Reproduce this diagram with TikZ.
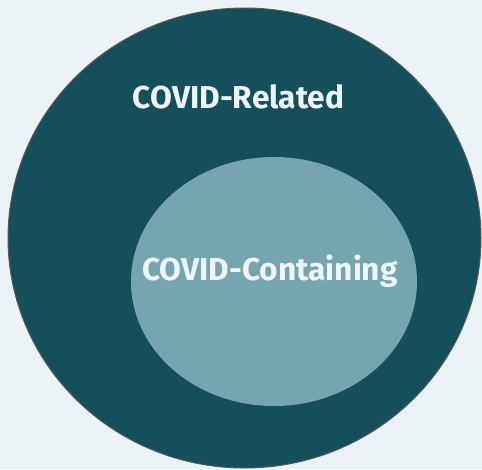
\documentclass[tikz,border=0pt]{standalone}
\usepackage{fontspec}
\setsansfont{Fira Sans}
\definecolor{bgblue}{HTML}{EBF3F7}
\definecolor{darkteal}{HTML}{164F5C}
\definecolor{lightteal}{HTML}{76A5AF}
\definecolor{labelwhite}{HTML}{EEF5F9}
\begin{document}
\begin{tikzpicture}[x=0.03cm,y=-0.03cm,font=\sffamily\bfseries\fontsize{27}{30}\selectfont,
		setlabel/.style={text=labelwhite,inner sep=0pt,anchor=base}]
				\fill[bgblue] (0,0) rectangle (482,469);
				\useasboundingbox (0,0) rectangle (482,469);
				\draw[black!65,line width=0.8pt,fill=darkteal] (244.5,238) ellipse[x radius=236.5,y radius=230];
				\draw[fill=lightteal,draw=none] (274,281.5) ellipse[x radius=143,y radius=124.5];
				\node[setlabel] (relatedtext) at (238.5,108) {COVID-Related};
				\node[setlabel] (containingtext) at (270,280) {COVID-Containing};
			\end{tikzpicture}
\end{document}
